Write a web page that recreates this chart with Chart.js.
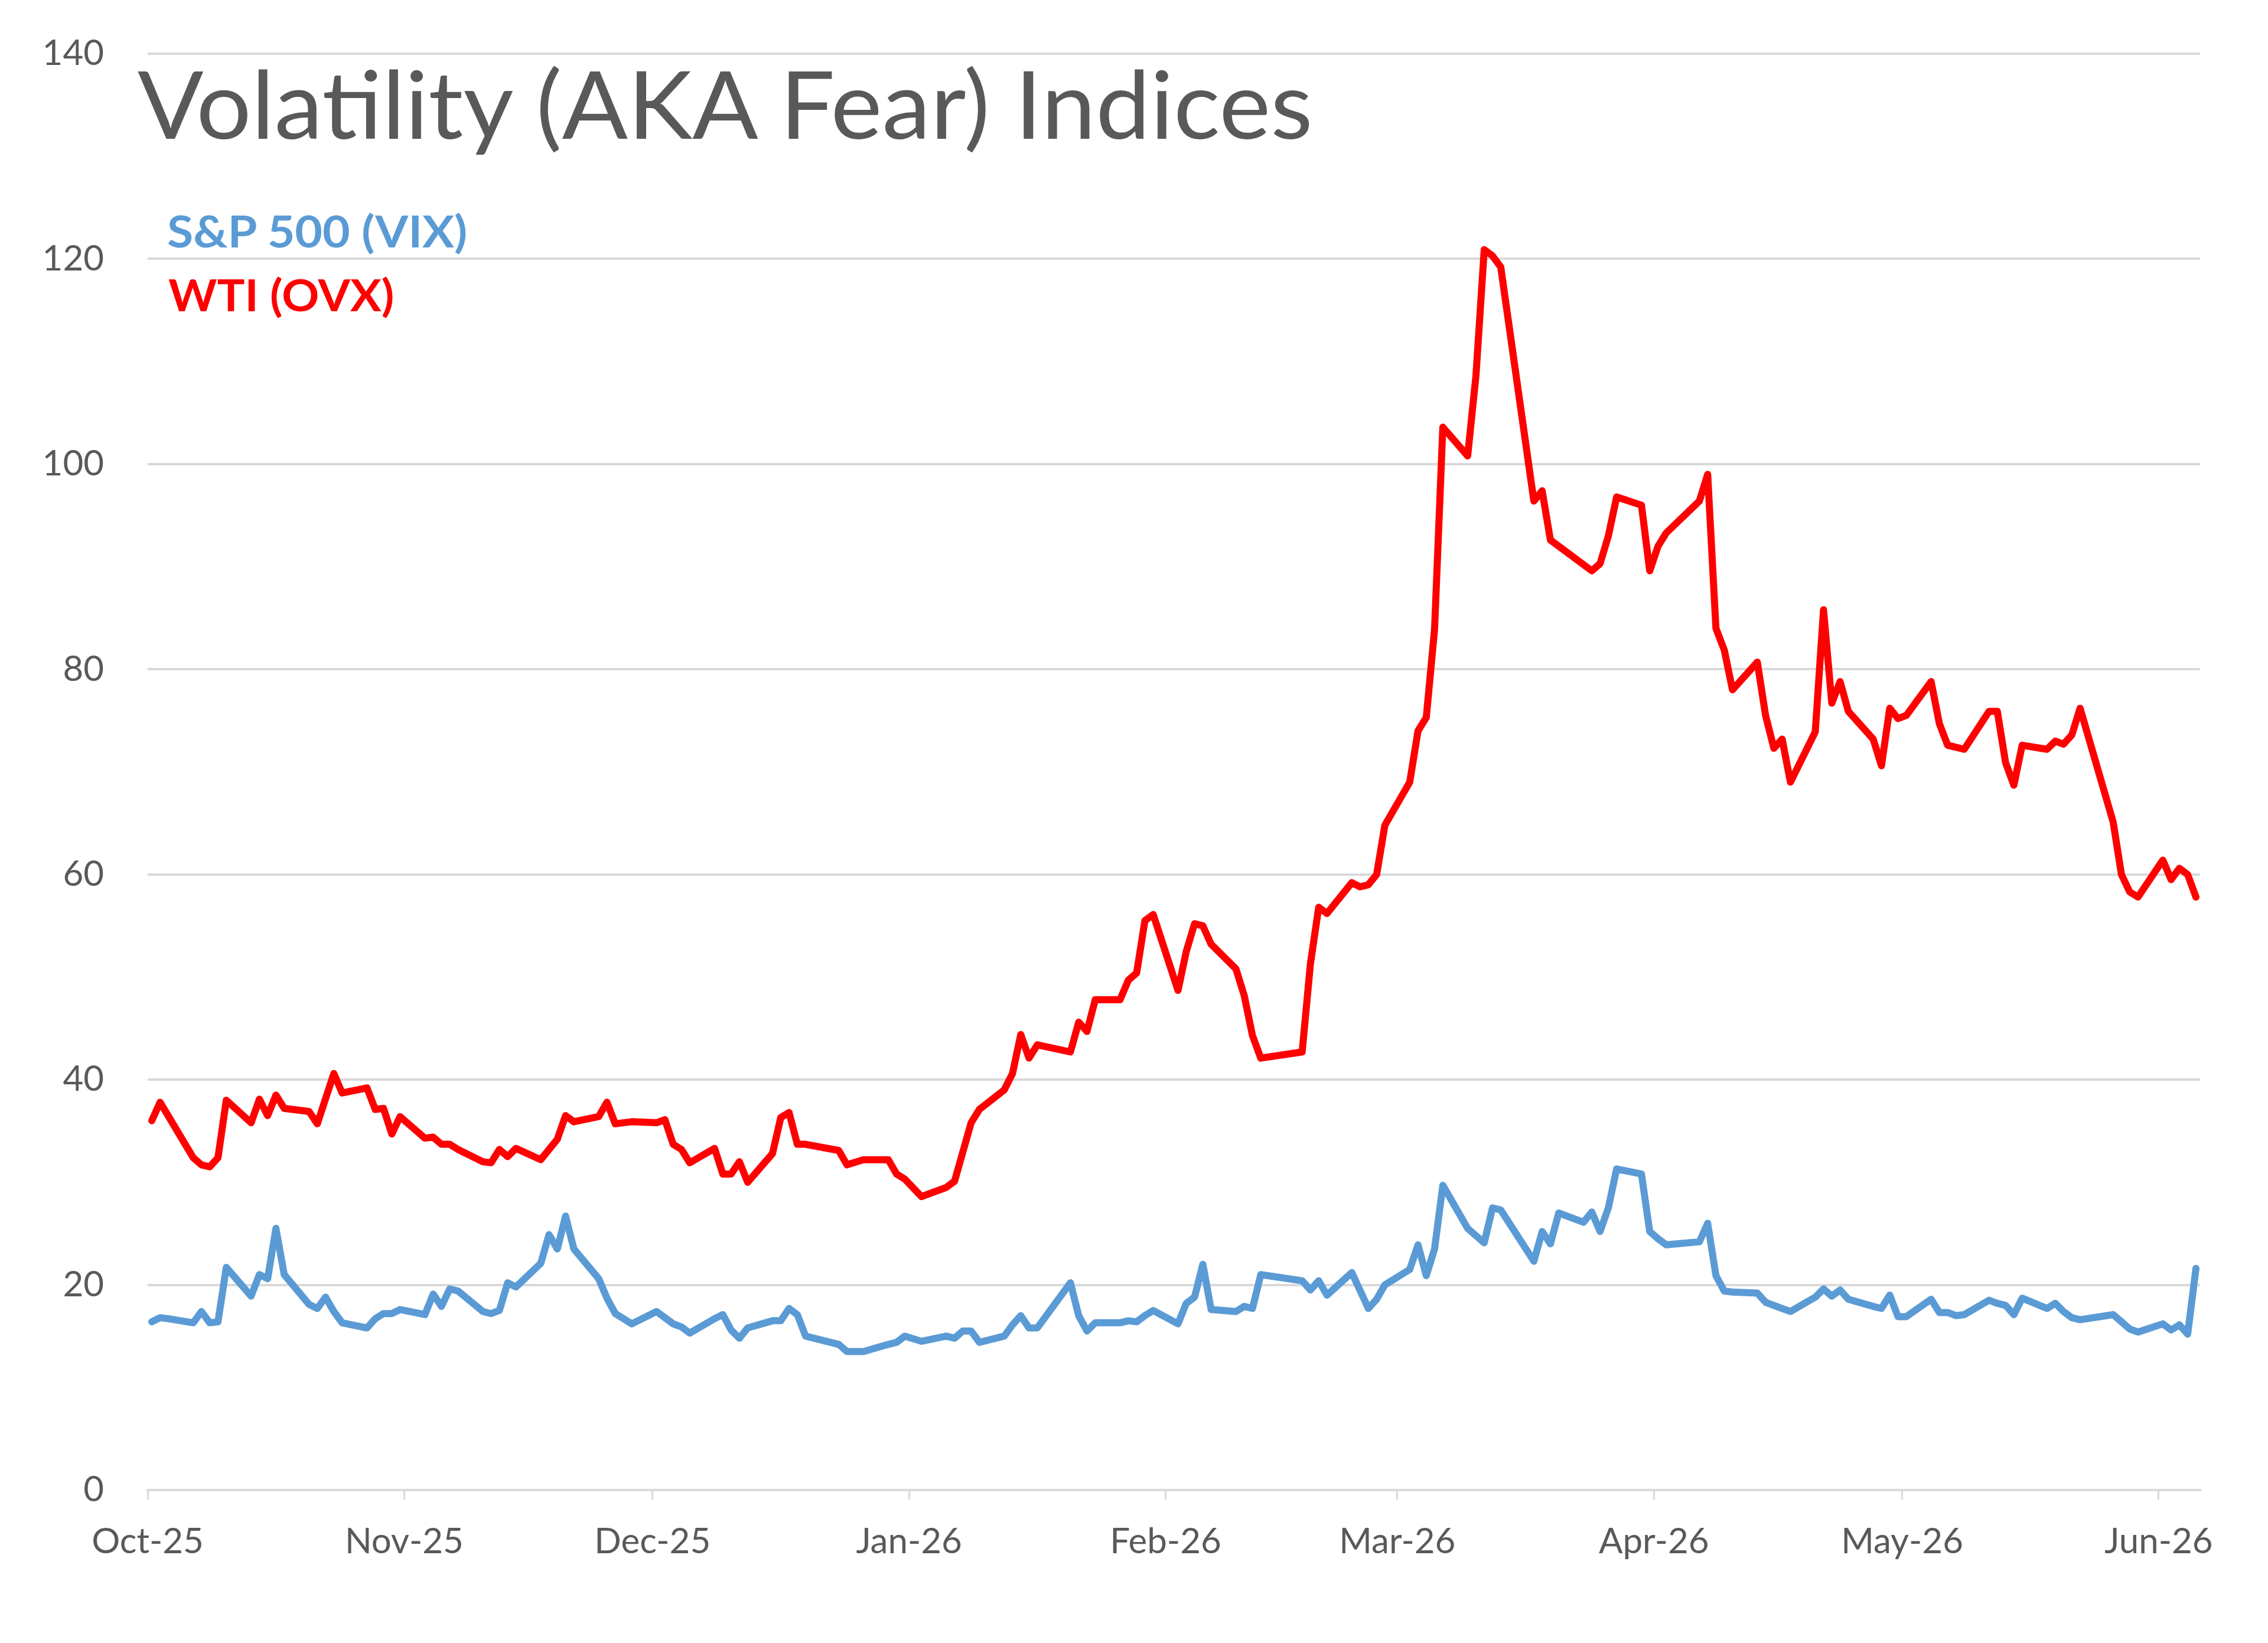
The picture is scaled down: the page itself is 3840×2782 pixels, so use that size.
<!DOCTYPE html>
<html>
<head>
<meta charset="utf-8">
<title>Volatility (AKA Fear) Indices</title>
<script src="https://cdn.jsdelivr.net/npm/chart.js@4.4.1/dist/chart.umd.min.js"></script>
<style>
body{margin:0;background:#fff;}
#wrap{position:relative;width:3840px;height:2782px;}
#chart{display:block;}
#title{position:absolute;left:233px;top:93px;font-family:Lato;font-weight:400;font-size:160px;line-height:1;color:#595959;white-space:nowrap;transform-origin:0 0;}
.legend{position:absolute;font-family:Lato;font-weight:700;font-size:75px;line-height:1;white-space:nowrap;transform-origin:0 0;}
</style>
</head>
<body>
<div id="wrap">
<canvas id="chart" width="3840" height="2782"></canvas>
<div id="title">Volatility (AKA Fear) Indices</div>
<div class="legend" id="legVix" style="left:283px;top:353px;color:#5B9BD5">S&amp;P 500 (VIX)</div>
<div class="legend" id="legOvx" style="left:285px;top:461px;color:#FF0000">WTI (OVX)</div>
</div>
<script>

const tickDates = ["2025-10-01","2025-11-01","2025-12-01","2026-01-01","2026-02-01","2026-03-01","2026-04-01","2026-05-01","2026-06-01"];
const tickLabels = ["Oct-25","Nov-25","Dec-25","Jan-26","Feb-26","Mar-26","Apr-26","May-26","Jun-26"];

// WTI (OVX)
const ovxDates = [
"2025-10-01","2025-10-02","2025-10-06","2025-10-07","2025-10-08","2025-10-09","2025-10-10","2025-10-13","2025-10-14","2025-10-15",
"2025-10-16","2025-10-17","2025-10-20","2025-10-21","2025-10-23","2025-10-24","2025-10-27","2025-10-28","2025-10-29","2025-10-30",
"2025-10-31","2025-11-03","2025-11-04","2025-11-05","2025-11-06","2025-11-07","2025-11-10","2025-11-11","2025-11-12","2025-11-13",
"2025-11-14","2025-11-17","2025-11-19","2025-11-20","2025-11-21","2025-11-24","2025-11-25","2025-11-26","2025-11-28","2025-12-01",
"2025-12-02","2025-12-03","2025-12-04","2025-12-05","2025-12-08","2025-12-09","2025-12-10","2025-12-11","2025-12-12","2025-12-15",
"2025-12-16","2025-12-17","2025-12-18","2025-12-19","2025-12-23","2025-12-24","2025-12-26","2025-12-29","2025-12-30","2025-12-31",
"2026-01-02","2026-01-05","2026-01-06","2026-01-08","2026-01-09","2026-01-12","2026-01-13","2026-01-14","2026-01-15","2026-01-16",
"2026-01-20","2026-01-21","2026-01-22","2026-01-23","2026-01-26","2026-01-27","2026-01-28","2026-01-29","2026-01-30","2026-02-02",
"2026-02-03","2026-02-04","2026-02-05","2026-02-06","2026-02-09","2026-02-10","2026-02-11","2026-02-12","2026-02-17","2026-02-18",
"2026-02-19","2026-02-20","2026-02-23","2026-02-24","2026-02-25","2026-02-26","2026-02-27","2026-03-02","2026-03-03","2026-03-04",
"2026-03-05","2026-03-06","2026-03-09","2026-03-10","2026-03-11","2026-03-12","2026-03-13","2026-03-17","2026-03-18","2026-03-19",
"2026-03-24","2026-03-25","2026-03-26","2026-03-27","2026-03-30","2026-03-31","2026-04-01","2026-04-02","2026-04-06","2026-04-07",
"2026-04-08","2026-04-09","2026-04-10","2026-04-13","2026-04-14","2026-04-15","2026-04-16","2026-04-17","2026-04-20","2026-04-21",
"2026-04-22","2026-04-23","2026-04-24","2026-04-27","2026-04-28","2026-04-29","2026-04-30","2026-05-01","2026-05-04","2026-05-05",
"2026-05-06","2026-05-08","2026-05-11","2026-05-12","2026-05-13","2026-05-14","2026-05-15","2026-05-18","2026-05-19","2026-05-20",
"2026-05-21","2026-05-22","2026-05-26","2026-05-27","2026-05-28","2026-05-29","2026-06-01","2026-06-02","2026-06-03","2026-06-04",
"2026-06-05"];
const ovxValues = [
36.0,37.8,32.4,31.7,31.5,32.4,38.0,35.8,38.1,36.5,
38.5,37.2,36.9,35.7,40.6,38.7,39.2,37.1,37.2,34.7,
36.4,34.3,34.4,33.7,33.7,33.2,32.0,31.9,33.2,32.5,
33.3,32.2,34.2,36.5,35.9,36.4,37.8,35.7,35.9,35.8,
36.1,33.7,33.2,31.9,33.3,30.8,30.8,32.0,30.0,32.8,
36.3,36.8,33.7,33.7,33.1,31.7,32.2,32.2,30.8,30.3,
28.6,29.5,30.1,35.8,37.1,39.0,40.6,44.4,42.1,43.4,
42.7,45.6,44.7,47.8,47.8,49.7,50.4,55.5,56.1,48.7,
52.5,55.2,55.0,53.2,50.8,48.2,44.3,42.1,42.7,51.3,
56.8,56.2,59.2,58.8,59.0,60.0,64.8,69.0,74.0,75.3,
83.9,103.6,100.8,108.6,120.9,120.3,119.2,96.4,97.4,92.6,
89.6,90.3,93.0,96.8,96.0,89.6,92.0,93.3,96.4,99.0,
84.0,81.9,78.0,80.7,75.5,72.3,73.2,69.0,73.9,85.8,
76.7,78.8,75.9,73.2,70.6,76.2,75.2,75.5,78.8,74.7,
72.6,72.2,75.9,75.9,70.9,68.7,72.6,72.2,73.0,72.7,
73.6,76.2,65.1,60.0,58.3,57.8,61.4,59.5,60.6,60.0,
57.8];

// S&P 500 (VIX)
const vixDates = [
"2025-10-01","2025-10-02","2025-10-03","2025-10-06","2025-10-07","2025-10-08","2025-10-09","2025-10-10","2025-10-13","2025-10-14",
"2025-10-15","2025-10-16","2025-10-17","2025-10-20","2025-10-21","2025-10-22","2025-10-23","2025-10-24","2025-10-27","2025-10-28",
"2025-10-29","2025-10-30","2025-10-31","2025-11-03","2025-11-04","2025-11-05","2025-11-06","2025-11-07","2025-11-10","2025-11-11",
"2025-11-12","2025-11-13","2025-11-14","2025-11-17","2025-11-18","2025-11-19","2025-11-20","2025-11-21","2025-11-24","2025-11-25",
"2025-11-26","2025-11-28","2025-12-01","2025-12-02","2025-12-03","2025-12-04","2025-12-05","2025-12-08","2025-12-09","2025-12-10",
"2025-12-11","2025-12-12","2025-12-15","2025-12-16","2025-12-17","2025-12-18","2025-12-19","2025-12-22","2025-12-23","2025-12-24",
"2025-12-26","2025-12-29","2025-12-30","2025-12-31","2026-01-02","2026-01-05","2026-01-06","2026-01-07","2026-01-08","2026-01-09",
"2026-01-12","2026-01-13","2026-01-14","2026-01-15","2026-01-16","2026-01-20","2026-01-21","2026-01-22","2026-01-23","2026-01-26",
"2026-01-27","2026-01-28","2026-01-29","2026-01-30","2026-02-02","2026-02-03","2026-02-04","2026-02-05","2026-02-06","2026-02-09",
"2026-02-10","2026-02-11","2026-02-12","2026-02-17","2026-02-18","2026-02-19","2026-02-20","2026-02-23","2026-02-25","2026-02-26",
"2026-02-27","2026-03-02","2026-03-03","2026-03-04","2026-03-05","2026-03-06","2026-03-09","2026-03-10","2026-03-11","2026-03-12",
"2026-03-13","2026-03-17","2026-03-18","2026-03-19","2026-03-20","2026-03-23","2026-03-24","2026-03-25","2026-03-26","2026-03-27",
"2026-03-30","2026-03-31","2026-04-01","2026-04-02","2026-04-06","2026-04-07","2026-04-08","2026-04-09","2026-04-10","2026-04-13",
"2026-04-14","2026-04-15","2026-04-16","2026-04-17","2026-04-20","2026-04-21","2026-04-22","2026-04-23","2026-04-24","2026-04-27",
"2026-04-28","2026-04-29","2026-04-30","2026-05-01","2026-05-04","2026-05-05","2026-05-06","2026-05-07","2026-05-08","2026-05-11",
"2026-05-12","2026-05-13","2026-05-14","2026-05-15","2026-05-18","2026-05-19","2026-05-20","2026-05-21","2026-05-22","2026-05-26",
"2026-05-27","2026-05-28","2026-05-29","2026-06-01","2026-06-02","2026-06-03","2026-06-04","2026-06-05"];
const vixValues = [
16.4,16.8,16.7,16.3,17.4,16.3,16.4,21.7,18.9,21.0,
20.6,25.5,21.0,18.1,17.7,18.8,17.4,16.3,15.8,16.7,
17.2,17.2,17.6,17.1,19.1,17.9,19.6,19.4,17.4,17.2,
17.5,20.2,19.8,22.1,24.9,23.5,26.7,23.5,20.6,18.7,
17.2,16.2,17.4,16.8,16.2,15.9,15.3,16.7,17.1,15.6,
14.8,15.8,16.5,16.5,17.7,17.1,15.0,14.4,14.2,13.5,
13.5,14.2,14.4,15.0,14.5,15.0,14.8,15.5,15.5,14.4,
15.0,16.1,17.0,15.8,15.8,20.2,17.0,15.5,16.3,16.3,
16.5,16.4,17.0,17.5,16.2,18.2,18.8,22.0,17.6,17.4,
17.9,17.7,21.0,20.4,19.5,20.4,19.0,21.2,17.7,18.6,
20.0,21.5,23.9,20.9,23.5,29.7,25.5,24.8,24.1,27.5,
27.3,22.3,25.2,24.0,27.0,26.1,27.1,25.2,27.5,31.3,
30.8,25.2,24.5,23.9,24.2,26.0,20.9,19.4,19.3,19.2,
18.3,18.0,17.7,17.4,18.8,19.6,18.9,19.5,18.6,17.9,
17.7,19.0,16.9,16.9,18.6,17.3,17.3,17.0,17.1,18.5,
18.2,18.0,17.1,18.7,17.7,18.2,17.4,16.8,16.6,17.1,
16.4,15.7,15.4,16.2,15.6,16.1,15.2,21.6];

const start = Date.parse("2025-10-01");

function dayOf(d){
return (Date.parse(d) - start) / 86400000;
}

// daily points sit in the middle of their day
function points(dates, values){
return dates.map((d, i) => ({x: dayOf(d) + 0.5, y: values[i]}));
}

const tickDays = tickDates.map(dayOf);

function fitWidth(id, w){
const el = document.getElementById(id);
el.style.transform = `scaleX(${w / el.offsetWidth})`;
}

fitWidth("title", 1990);
fitWidth("legVix", 508);
fitWidth("legOvx", 382);

Chart.defaults.font.family = "Lato";
Chart.defaults.color = "#595959";

new Chart(document.getElementById("chart"), {
type: "line",
data: {
datasets: [
{
label: "S&P 500 (VIX)",
data: points(vixDates, vixValues),
borderColor: "#5B9BD5",
borderWidth: 12,
borderJoinStyle: "round",
borderCapStyle: "round",
pointRadius: 0,
tension: 0
},
{
label: "WTI (OVX)",
data: points(ovxDates, ovxValues),
borderColor: "#FF0000",
borderWidth: 12,
borderJoinStyle: "round",
borderCapStyle: "round",
pointRadius: 0,
tension: 0
}
]
},
options: {
responsive: false,
animation: false,
devicePixelRatio: 1,
layout: {padding: {left: 0, top: 91, right: 115, bottom: 0}},
plugins: {
legend: {display: false},
tooltip: {enabled: false}
},
scales: {
x: {
type: "linear",
min: 0,
max: 248,
afterBuildTicks: s => { s.ticks = tickDays.map(v => ({value: v})); },
afterFit: s => { s.height = 259; },
ticks: {
autoSkip: false,
maxRotation: 0,
padding: 36,
color: "#595959",
font: {size: 60},
callback: (v, i) => tickLabels[i]
},
grid: {drawOnChartArea: false, drawTicks: true, tickLength: 16, color: "#D9D9D9", lineWidth: 3},
border: {display: true, color: "#D9D9D9", width: 4}
},
y: {
min: 0,
max: 140,
// tick padding would otherwise push the plot top down
afterFit: s => { s.width = 250; s.paddingTop = 0; s.paddingBottom = 0; },
ticks: {stepSize: 20, padding: 74, color: "#595959", font: {size: 60}},
grid: {color: "#D9D9D9", lineWidth: 4, drawTicks: false},
border: {display: false}
}
}
}
});

</script>
</body>
</html>
